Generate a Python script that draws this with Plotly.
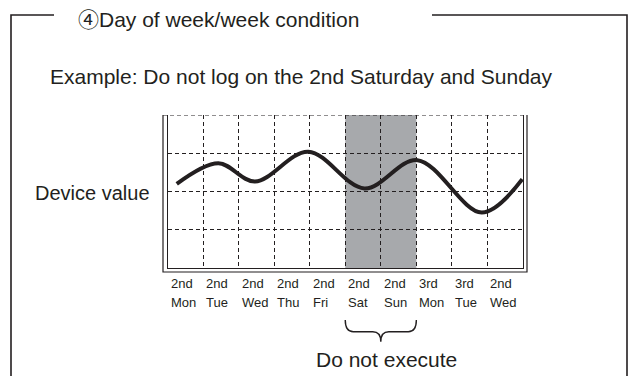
import plotly.graph_objects as go

W, H = 629, 376
INK = "#231f20"
SHADE = "#a7a9ac"
FONT = "Liberation Sans, Arial, Helvetica, sans-serif"

# Day columns along the time axis: week ordinal and weekday
week_labels = ["2nd", "2nd", "2nd", "2nd", "2nd", "2nd", "2nd", "3rd", "3rd", "2nd"]
day_labels = ["Mon", "Tue", "Wed", "Thu", "Fri", "Sat", "Sun", "Mon", "Tue", "Wed"]

# Device value curve (x in day columns, y in grid rows)
trace_x = [0.26, 1.43, 2.46, 3.96, 5.54, 7.03, 8.84, 9.98]
trace_y = [2.20, 2.74, 2.26, 3.04, 2.08, 2.82, 1.45, 2.32]

# Days on which logging is skipped (2nd Saturday and Sunday)
skip_start, skip_end = 5, 7

n_days = len(day_labels)
n_rows = 4


def px(x):
    return x / W


def py(y):
    return 1 - y / H


# plot area in pixels
L, R, T, B = 167.5, 523.0, 115.0, 268.0

fig = go.Figure()
fig.add_trace(go.Scatter(
    x=trace_x, y=trace_y, mode="lines",
    line=dict(color=INK, width=4, shape="spline", smoothing=1.0),
    hoverinfo="skip", showlegend=False,
))

shapes = []
# excluded days band
shapes.append(dict(type="rect", xref="x", yref="y", x0=skip_start, x1=skip_end,
                   y0=0, y1=n_rows, fillcolor=SHADE, line=dict(width=0), layer="below"))
# dashed top edge of the plot box
shapes.append(dict(type="line", xref="paper", yref="y", x0=px(163), x1=px(R),
                   y0=n_rows, y1=n_rows, line=dict(color=INK, width=1.2, dash="4px,3px")))
# outer offset frame of the plot box
shapes.append(dict(type="path", xref="paper", yref="paper",
                   path=f"M {px(163)},{py(T)} L {px(163)},{py(272)} L {px(527)},{py(272)} L {px(527)},{py(T)}",
                   line=dict(color=INK, width=1.2)))
# panel frame with a gap for the heading
shapes.append(dict(type="path", xref="paper", yref="paper",
                   path=f"M {px(54)},{py(15)} L {px(11)},{py(15)} L {px(11)},{py(376)}",
                   line=dict(color=INK, width=1.6)))
shapes.append(dict(type="path", xref="paper", yref="paper",
                   path=f"M {px(432)},{py(15)} L {px(627)},{py(15)} L {px(627)},{py(376)}",
                   line=dict(color=INK, width=1.6)))

# brace under the skipped days
mid = (skip_start + skip_end) / 2
col = (R - L) / n_days


def dx(p):
    return p / col


y_top, y_bar, y_tip = py(320), py(331.7), py(341.7)
brace = (
    f"M {skip_start},{y_top} Q {skip_start},{y_bar} {skip_start + dx(8)},{y_bar} "
    f"L {mid - dx(8)},{y_bar} Q {mid},{y_bar} {mid},{y_tip} "
    f"Q {mid},{y_bar} {mid + dx(8)},{y_bar} "
    f"L {skip_end - dx(8)},{y_bar} Q {skip_end},{y_bar} {skip_end},{y_top}"
)
shapes.append(dict(type="path", xref="x", yref="paper", path=brace,
                   line=dict(color=INK, width=1.4)))

annotations = []
heading = ("<span style=\"font-family:'Noto Sans CJK JP'\">④</span>"
           "Day of week/week condition")
annotations.append(dict(text=heading, xref="paper", yref="paper",
                        x=px(76), y=py(17.5), xanchor="left", yanchor="middle",
                        showarrow=False, font=dict(family=FONT, size=21, color=INK)))
annotations.append(dict(text="Example: Do not log on the 2nd Saturday and Sunday",
                        xref="paper", yref="paper", x=px(301), y=py(77),
                        xanchor="center", yanchor="middle", showarrow=False,
                        font=dict(family=FONT, size=21, color=INK)))
annotations.append(dict(text="Device value", xref="paper", yref="paper",
                        x=px(152), y=py(192.5), xanchor="right", yanchor="middle",
                        showarrow=False, font=dict(family=FONT, size=20, color=INK)))
annotations.append(dict(text="Do not execute", xref="x", yref="paper",
                        x=mid + dx(6), y=py(359), xanchor="center", yanchor="middle",
                        showarrow=False, font=dict(family=FONT, size=21, color=INK)))
for i, (wk, day) in enumerate(zip(week_labels, day_labels)):
    annotations.append(dict(text=wk, xref="x", yref="paper", x=i, xshift=1,
                            y=py(283.5), xanchor="left", yanchor="middle", showarrow=False,
                            font=dict(family=FONT, size=13, color=INK)))
    annotations.append(dict(text=day, xref="x", yref="paper", x=i, xshift=1,
                            y=py(302.5), xanchor="left", yanchor="middle", showarrow=False,
                            font=dict(family=FONT, size=13, color=INK)))

fig.update_layout(
    width=W, height=H,
    margin=dict(l=0, r=0, t=0, b=0),
    paper_bgcolor="white", plot_bgcolor="white",
    shapes=shapes, annotations=annotations,
    xaxis=dict(domain=[px(L), px(R)], range=[0, n_days], tickvals=list(range(1, n_days)),
               showticklabels=False, ticks="", showgrid=True, gridcolor=INK, gridwidth=1.2,
               griddash="4px,3px", zeroline=False, showline=True, linecolor=INK,
               linewidth=1.2, fixedrange=True),
    yaxis=dict(domain=[py(B), py(T)], range=[0, n_rows], tickvals=list(range(1, n_rows)),
               showticklabels=False, ticks="", showgrid=True, gridcolor=INK, gridwidth=1.2,
               griddash="4px,3px", zeroline=False, showline=True, mirror=True, linecolor=INK,
               linewidth=1.2, fixedrange=True),
)

fig.write_html("out.html", config={"displayModeBar": False})
